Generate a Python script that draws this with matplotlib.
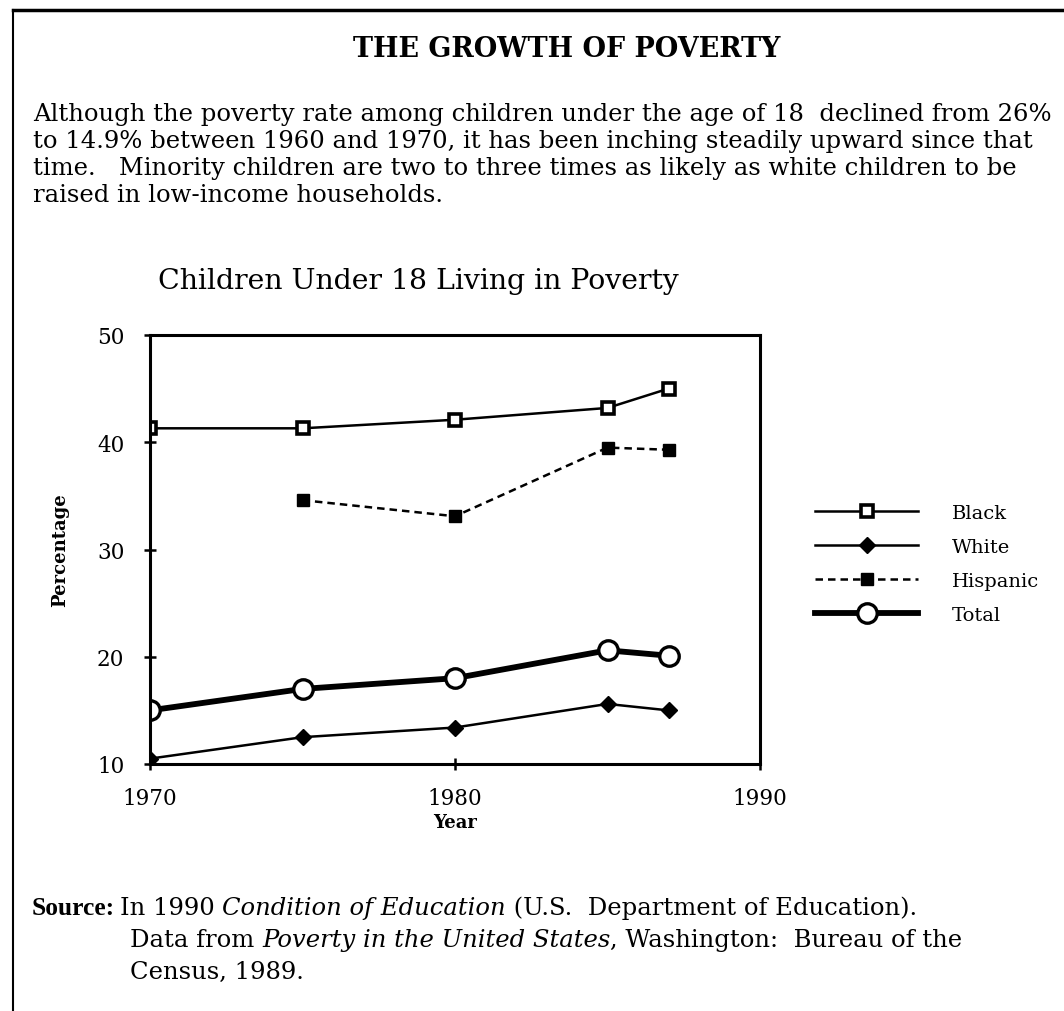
import matplotlib
matplotlib.use("Agg")
import matplotlib.pyplot as plt
from matplotlib.lines import Line2D

plt.rcParams['font.family'] = ['DejaVu Serif']

W, H = 1064, 1012

# data
years = [1970, 1975, 1980, 1985, 1987]
black = [41.3, 41.3, 42.1, 43.2, 45.0]
white = [10.5, 12.5, 13.4, 15.6, 15.0]
hisp_years = [1975, 1980, 1985, 1987]
hispanic = [34.6, 33.1, 39.5, 39.3]
total = [15.0, 17.0, 18.0, 20.6, 20.1]

xticks = [1970, 1980, 1990]
yticks = [10, 20, 30, 40, 50]

title = "THE GROWTH OF POVERTY"
body = ["Although the poverty rate among children under the age of 18  declined from 26%",
        "to 14.9% between 1960 and 1970, it has been inching steadily upward since that",
        "time.   Minority children are two to three times as likely as white children to be",
        "raised in low-income households."]
chart_title = "Children Under 18 Living in Poverty"


def fx(x):
    return x / W


def fy(y):
    return 1 - y / H


fig = plt.figure(figsize=(W / 100, H / 100), dpi=100)
fig.patch.set_facecolor('white')
renderer = fig.canvas.get_renderer()


def fit(t, width):
    # scale the font so the text spans the width seen in the scan
    w = t.get_window_extent(renderer).width
    t.set_fontsize(t.get_fontsize() * width / w)
    return t.get_fontsize()


# page frame (left and top rule)
fig.add_artist(Line2D([fx(13), fx(13)], [fy(11), fy(1012)], color='black', lw=1.5))
fig.add_artist(Line2D([fx(13), fx(1064)], [fy(11), fy(11)], color='black', lw=2.5))

t = fig.text(fx(567), fy(57), title, ha='center', va='baseline', fontsize=16, fontweight='bold')
fit(t, 429)

t0 = fig.text(fx(33), fy(121), body[0], ha='left', va='baseline', fontsize=14)
body_fs = fit(t0, 1022)
for i, line in enumerate(body[1:], start=1):
    fig.text(fx(33), fy(121 + 27 * i), line, ha='left', va='baseline', fontsize=body_fs)

t = fig.text(fx(158), fy(289), chart_title, ha='left', va='baseline', fontsize=18)
fit(t, 524)

ax = fig.add_axes([fx(150), fy(765), fx(760) - fx(150), fy(336) - fy(765)])
ax.plot(years, black, '-', color='black', lw=1.8, marker='s', ms=8,
        mfc='white', mec='black', mew=2.6, label='Black')
ax.plot(years, white, '-', color='black', lw=1.8, marker='D', ms=8,
        mfc='black', mec='black', label='White')
ax.plot(hisp_years, hispanic, '--', color='black', lw=1.8, dashes=(3, 2), marker='s', ms=8,
        mfc='black', mec='black', label='Hispanic')
ax.plot(years, total, '-', color='black', lw=4.2, marker='o', ms=14,
        mfc='white', mec='black', mew=2.4, label='Total')

ax.set_xlim(1970, 1990)
ax.set_ylim(10, 50)
ax.set_xticks(xticks)
ax.set_yticks(yticks)
ax.set_xticklabels([str(t) for t in xticks], fontsize=15.5)
ax.set_yticklabels([str(t) for t in yticks], fontsize=15.5)
ax.tick_params(direction='inout', length=9, width=1.8)
ax.tick_params(axis='x', pad=12)
ax.tick_params(axis='y', pad=14)
for s in ax.spines.values():
    s.set_linewidth(2.2)
ax.set_xlabel("Year", fontsize=13, fontweight='bold', labelpad=3)
ax.set_ylabel("Percentage", fontsize=13, fontweight='bold', labelpad=20)

leg = ax.legend(loc='upper left', bbox_to_anchor=(fx(815), fy(505)),
                bbox_transform=fig.transFigure, frameon=False, fontsize=14,
                handlelength=5.3, handletextpad=1.75, labelspacing=0.82,
                borderaxespad=0, borderpad=0)


def run(x, y, pieces, fs):
    # pieces: list of (text, style, weight); drawn left to right
    for txt, style, weight in pieces:
        t = fig.text(fx(x), fy(y), txt, ha='left', va='baseline', fontsize=fs,
                     style=style, fontweight=weight)
        x += t.get_window_extent(renderer).width


src_fs = body_fs
fig.text(fx(32), fy(915), "Source:", ha='left', va='baseline', fontsize=src_fs * 1.05,
         fontweight='bold', family='Liberation Serif')
run(120, 915, [("In 1990 ", 'normal', 'normal'),
               ("Condition of Education", 'italic', 'normal'),
               (" (U.S.  Department of Education).", 'normal', 'normal')], src_fs)
run(130, 947, [("Data from ", 'normal', 'normal'),
               ("Poverty in the United States", 'italic', 'normal'),
               (", Washington:  Bureau of the", 'normal', 'normal')], src_fs)
run(130, 979, [("Census, 1989.", 'normal', 'normal')], src_fs)

fig.savefig("out.png", dpi=100, facecolor='white')
